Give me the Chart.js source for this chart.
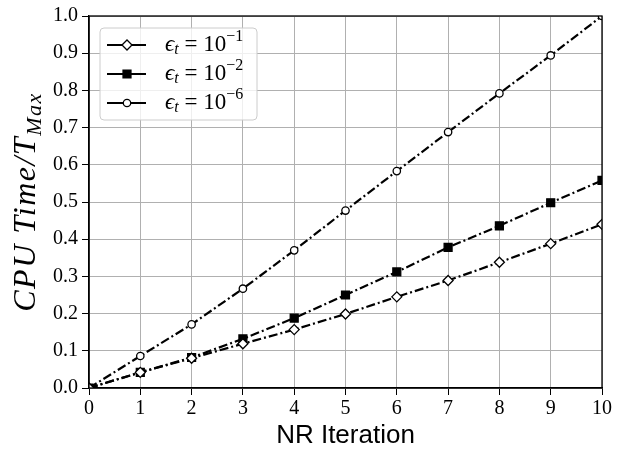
<!DOCTYPE html>
<html>
<head>
<meta charset="utf-8">
<script src="https://cdn.jsdelivr.net/npm/chart.js@4"></script>
<style>
  html, body { margin: 0; padding: 0; background: #fff; }
  canvas { display: block; }
</style>
</head>
<body>
<canvas id="chart" width="625" height="455"></canvas>
<script>
// --- data ---
const iterations = [0, 1, 2, 3, 4, 5, 6, 7, 8, 9, 10];
const tol1 = [0.0, 0.042, 0.080, 0.119, 0.157, 0.199, 0.245, 0.289, 0.338, 0.388, 0.440]; // eps_t = 1e-1
const tol2 = [0.0, 0.042, 0.082, 0.132, 0.188, 0.250, 0.312, 0.378, 0.436, 0.498, 0.558]; // eps_t = 1e-2
const tol6 = [0.0, 0.086, 0.171, 0.267, 0.370, 0.477, 0.583, 0.688, 0.792, 0.894, 1.0];   // eps_t = 1e-6
const legendExps = ['\u22121', '\u22122', '\u22126'];

const SERIF = '"Liberation Serif", "DejaVu Serif", serif';
const SANS = '"Liberation Sans", "DejaVu Sans", sans-serif';
const DASHDOT = [9, 3, 2, 3];

const toPoints = vals => iterations.map((x, i) => ({ x, y: vals[i] }));

// draws text made of pieces (font / baseline shift) one after another
function drawPieces(ctx, pieces, x, y) {
    let cx = x;
    pieces.forEach(p => {
        ctx.font = p.font;
        ctx.fillText(p.text, cx, y + (p.dy || 0));
        cx += ctx.measureText(p.text).width;
    });
    return cx;
}
function piecesWidth(ctx, pieces) {
    let w = 0;
    pieces.forEach(p => { ctx.font = p.font; w += ctx.measureText(p.text).width; });
    return w;
}

// black box round the plot area
const framePlugin = {
    id: 'frame',
    afterDatasetsDraw(chart) {
        const { ctx, chartArea: a } = chart;
        ctx.save();
        ctx.strokeStyle = '#000';
        ctx.lineWidth = 1.3;
        ctx.strokeRect(a.left, a.top, a.right - a.left, a.bottom - a.top);
        ctx.restore();
    }
};

// y axis title with subscript
const yTitlePlugin = {
    id: 'yTitle',
    afterDraw(chart) {
        const { ctx, chartArea: a } = chart;
        const pieces = [
            { text: 'CPU Time/T', font: 'italic 32px ' + SERIF },
            { text: 'Max', font: 'italic 22px ' + SERIF, dy: 6 }
        ];
        ctx.save();
        ctx.letterSpacing = '1.5px';
        ctx.translate(35, (a.top + a.bottom) / 2);
        ctx.rotate(-Math.PI / 2);
        ctx.fillStyle = '#000';
        ctx.textBaseline = 'alphabetic';
        ctx.textAlign = 'left';
        drawPieces(ctx, pieces, -piecesWidth(ctx, pieces) / 2, 0);
        ctx.restore();
    }
};

// matplotlib-like legend box
const legendPlugin = {
    id: 'mplLegend',
    afterDatasetsDraw(chart) {
        const { ctx, chartArea: a } = chart;
        const x0 = a.left + 11, y0 = a.top + 12, w = 157, h = 92;
        ctx.save();
        ctx.beginPath();
        ctx.roundRect(x0, y0, w, h, 4);
        ctx.fillStyle = 'rgba(255,255,255,0.8)';
        ctx.fill();
        ctx.strokeStyle = '#cccccc';
        ctx.lineWidth = 1;
        ctx.stroke();

        chart.data.datasets.forEach((ds, i) => {
            const y = y0 + 17 + i * 29;
            ctx.strokeStyle = '#000';
            ctx.lineWidth = 2.2;
            ctx.setLineDash([]);
            ctx.beginPath();
            ctx.moveTo(x0 + 7, y);
            ctx.lineTo(x0 + 46, y);
            ctx.stroke();
            ctx.fillStyle = ds.pointBackgroundColor;
            ctx.lineWidth = ds.pointBorderWidth;
            Chart.helpers.drawPoint(ctx, {
                pointStyle: ds.pointStyle,
                radius: ds.pointRadius,
                rotation: 0,
                borderWidth: ds.pointBorderWidth
            }, x0 + 27, y);
            ctx.fillStyle = '#000';
            ctx.textBaseline = 'middle';
            ctx.textAlign = 'left';
            drawPieces(ctx, [
                { text: '\u03f5', font: 'italic 23px ' + SERIF },
                { text: 't', font: 'italic 16px ' + SERIF, dy: 5 },
                { text: ' = 10', font: '23px ' + SERIF },
                { text: legendExps[i], font: '16px ' + SERIF, dy: -8 }
            ], x0 + 65, y);
        });
        ctx.restore();
    }
};

const seriesStyle = {
    borderColor: '#000',
    borderWidth: 2.2,
    borderDash: DASHDOT,
    pointBorderColor: '#000',
    pointBorderWidth: 1.3,
    tension: 0,
    clip: 0
};

new Chart(document.getElementById('chart'), {
    type: 'line',
    data: {
        datasets: [
            {
                ...seriesStyle,
                label: 'eps 1e-1',
                data: toPoints(tol1),
                pointStyle: 'rectRot',
                pointRadius: 5,
                pointBackgroundColor: '#fff'
            },
            {
                ...seriesStyle,
                label: 'eps 1e-2',
                data: toPoints(tol2),
                pointStyle: 'rect',
                pointRadius: 5.6,
                pointBackgroundColor: '#000'
            },
            {
                ...seriesStyle,
                label: 'eps 1e-6',
                data: toPoints(tol6),
                pointStyle: 'circle',
                pointRadius: 3.7,
                pointBackgroundColor: '#fff'
            }
        ]
    },
    options: {
        responsive: false,
        animation: false,
        layout: { padding: { left: 30, top: 12, right: 23, bottom: 0 } },
        plugins: { legend: { display: false }, tooltip: { enabled: false } },
        scales: {
            x: {
                type: 'linear',
                min: 0,
                max: 10,
                afterFit: s => { s.height = 67; },
                ticks: {
                    stepSize: 1,
                    color: '#000',
                    padding: 2,
                    maxRotation: 0,
                    font: { family: SERIF, size: 20 }
                },
                grid: { color: '#b0b0b0', lineWidth: 1, tickColor: '#000', tickLength: 7 },
                border: { display: true, color: '#000', width: 1.3 },
                title: {
                    display: true,
                    text: 'NR Iteration',
                    color: '#000',
                    padding: { top: 0, bottom: 4 },
                    font: { family: SANS, size: 26 }
                }
            },
            y: {
                min: 0,
                max: 1,
                afterFit: s => { s.width = 59; },
                ticks: {
                    stepSize: 0.1,
                    color: '#000',
                    padding: 4,
                    font: { family: SERIF, size: 20 },
                    callback: v => v.toFixed(1)
                },
                grid: { color: '#b0b0b0', lineWidth: 1, tickColor: '#000', tickLength: 7 },
                border: { display: true, color: '#000', width: 1.3 }
            }
        }
    },
    plugins: [framePlugin, legendPlugin, yTitlePlugin]
});
</script>
</body>
</html>
